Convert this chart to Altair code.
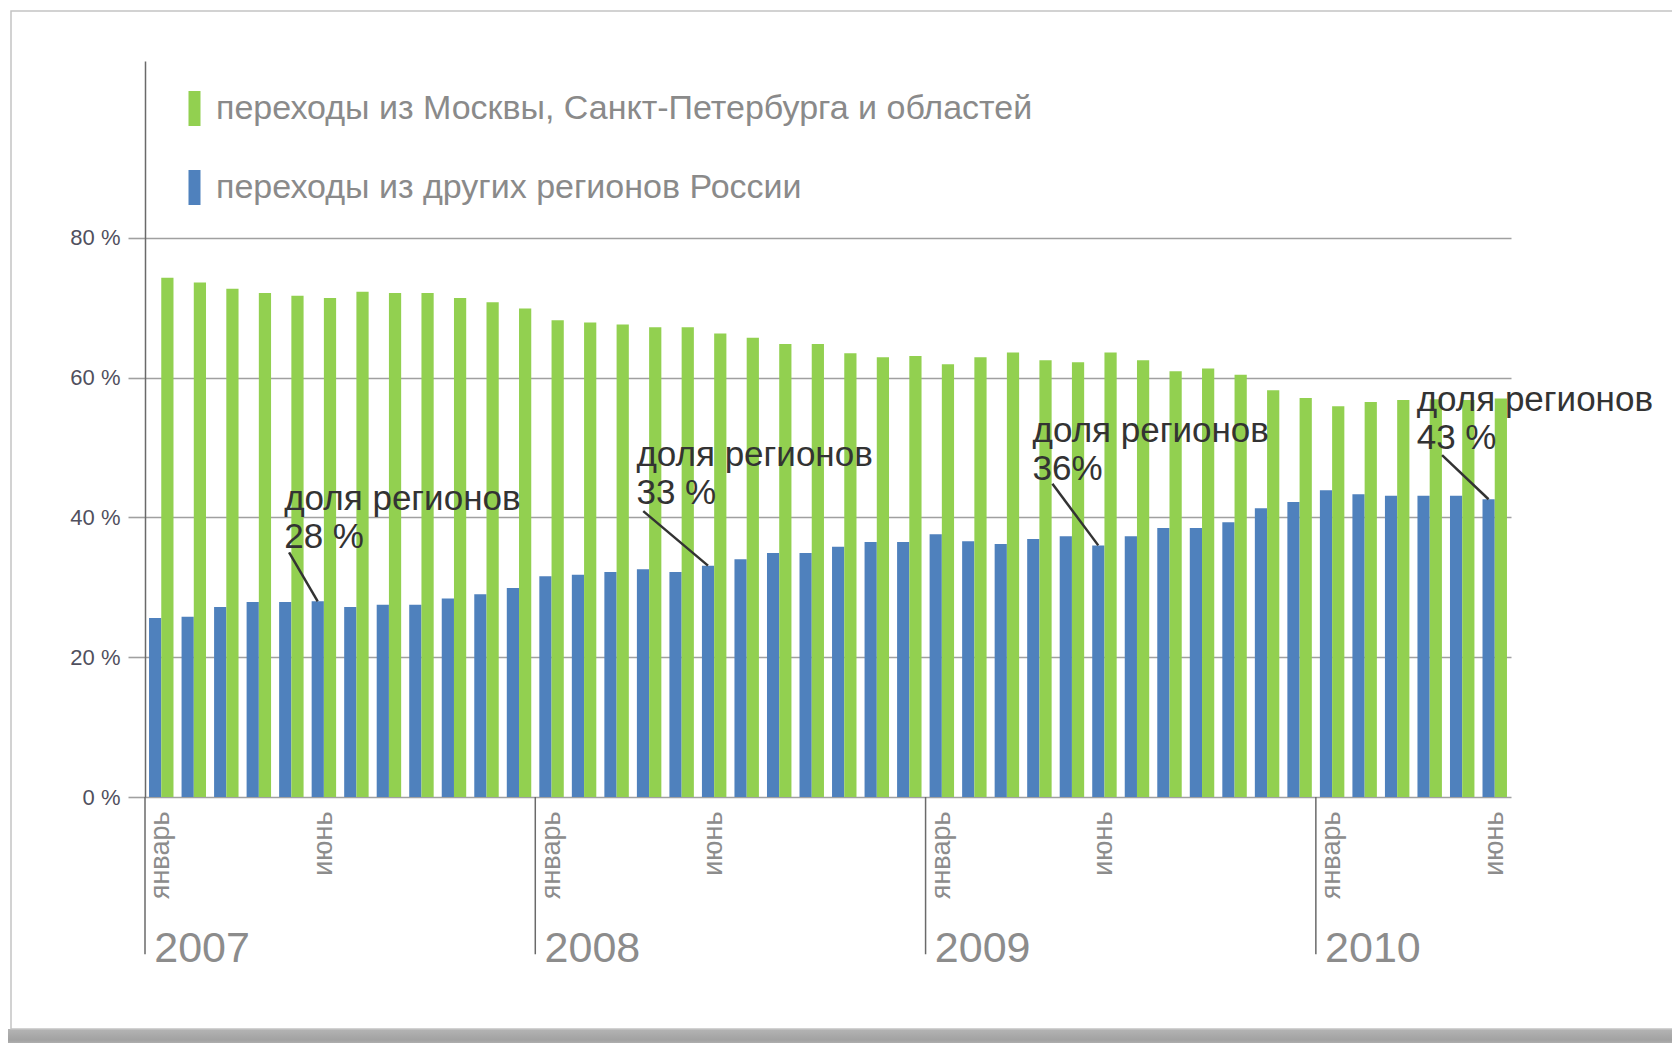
import altair as alt
import pandas as pd

# ---------------- data ----------------
years = [2007, 2008, 2009, 2010]
months_per_year = [12, 12, 12, 6]
month_names = {1: "январь", 6: "июнь"}

green_label = "переходы из Москвы, Санкт-Петербурга и областей"
blue_label = "переходы из других регионов России"

green_share = [74.3, 73.6, 72.7, 72.1, 71.7, 71.4, 72.3, 72.1, 72.1, 71.4, 70.8, 69.9,
               68.2, 67.9, 67.6, 67.2, 67.2, 66.3, 65.7, 64.8, 64.8, 63.5, 62.9, 63.1,
               61.9, 62.9, 63.6, 62.5, 62.2, 63.6, 62.5, 60.9, 61.3, 60.4, 58.2, 57.1,
               55.9, 56.5, 56.8, 56.9, 56.8, 57.0]
blue_share = [25.6, 25.8, 27.2, 27.9, 27.9, 28.0, 27.2, 27.5, 27.5, 28.4, 29.0, 29.9,
              31.6, 31.8, 32.2, 32.6, 32.2, 33.1, 34.0, 34.9, 34.9, 35.8, 36.5, 36.5,
              37.6, 36.6, 36.2, 36.9, 37.3, 36.0, 37.3, 38.5, 38.5, 39.3, 41.3, 42.2,
              43.9, 43.3, 43.1, 43.1, 43.1, 42.6]

y_ticks = [0, 20, 40, 60, 80]

ann_month_index = [5, 17, 29, 41]
ann_title = "доля регионов"
ann_value_text = ["28 %", "33 %", "36%", "43 %"]
ann_text_x = [4.28, 15.11, 27.29, 39.1]     # in month units
ann_text_y = [42.6, 48.9, 52.3, 56.8]       # in percent
ann_line_x = [4.43, 15.32, 27.9, 39.88]
ann_line_y = [35.0, 40.9, 44.8, 48.9]

# ---------------- tables ----------------
keys = []
for yr, n in zip(years, months_per_year):
    for m in range(1, n + 1):
        keys.append(f"{yr}-{m:02d}")

rows = []
for k, g, b in zip(keys, green_share, blue_share):
    rows.append({"key": k, "series": blue_label, "value": b})
    rows.append({"key": k, "series": green_label, "value": g})
df = pd.DataFrame(rows)

label_keys = [k for k in keys if int(k[5:]) in month_names]
label_expr = (f"substring(datum.value, 5, 7) == '01' ? '{month_names[1]}' : '{month_names[6]}'")

year_df = pd.DataFrame({"key": [f"{y}-01" for y in years], "year": [str(y) for y in years]})

blue_center = 0.31  # position of blue bar centre inside a month step
ann_df = pd.DataFrame({
    "tx": ann_text_x,
    "ty": ann_text_y,
    "label": [ann_title + "\n" + v for v in ann_value_text],
    "lx": ann_line_x,
    "ly": ann_line_y,
    "ex": [i + blue_center for i in ann_month_index],
    "ey": [blue_share[i] for i in ann_month_index],
})

N = len(keys)
Y_MAX = 105.3
FONT = "Liberation Sans"
W, H = 1366, 736

band_scale = alt.Scale(domain=keys, paddingInner=0, paddingOuter=0)
y_scale = alt.Scale(domain=[0, Y_MAX], nice=False, zero=False)
lin_scale = alt.Scale(domain=[0, N], nice=False, zero=False)

bars = alt.Chart(df).mark_bar().encode(
    x=alt.X("key:N", sort=keys, scale=band_scale, title=None,
            axis=alt.Axis(values=label_keys, labelExpr=label_expr, labelAngle=270,
                          labelAlign="right", labelBaseline="middle", labelPadding=14,
                          labelFontSize=27, labelColor="#8c8c8c", labelFont=FONT,
                          ticks=False, domain=False, grid=False, labelOverlap=False)),
    xOffset=alt.XOffset("series:N", scale=alt.Scale(domain=[blue_label, green_label],
                                                   paddingInner=0, paddingOuter=0.33)),
    y=alt.Y("value:Q", scale=y_scale, title=None,
            axis=alt.Axis(values=y_ticks, labelExpr="datum.value + ' %'", tickSize=17,
                          tickColor="#a0a0a0", tickWidth=1.6, gridColor="#a0a0a0",
                          gridWidth=1.6, domainColor="#6a6a6a", domainWidth=1.5,
                          labelFontSize=22, labelColor="#50505e", labelPadding=8,
                          labelFont=FONT, title=None)),
    color=alt.Color("series:N",
                    scale=alt.Scale(domain=[green_label, blue_label],
                                    range=["#92d050", "#4f81bd"]),
                    legend=alt.Legend(orient="none", legendX=32, legendY=30,
                                      direction="vertical", title=None,
                                      symbolType="M-0.343,-1L0.343,-1L0.343,1L-0.343,1Z",
                                      symbolSize=1225, symbolStrokeWidth=0,
                                      symbolOpacity=1, labelFontSize=34,
                                      labelColor="#8a8a8a", labelFont=FONT,
                                      labelOffset=4, rowPadding=44, labelLimit=1200,
                                      padding=0)),
)

seps = alt.Chart(year_df).mark_rule(color="#6a6a6a", strokeWidth=1.5).encode(
    x=alt.X("key:N", scale=band_scale, bandPosition=0, axis=None),
    y=alt.YDatum(0, scale=y_scale, title=None),
    y2=alt.Y2Datum(-22.5),
)

year_text = alt.Chart(year_df).mark_text(
    align="left", baseline="middle", dx=-7, fontSize=43, color="#8c8c8c", font=FONT
).encode(
    x=alt.X("key:N", scale=band_scale, axis=None),
    y=alt.YDatum(-21.7, scale=y_scale, title=None),
    text="year:N",
)

ann_lines = alt.Chart(ann_df).mark_rule(color="#333333", strokeWidth=2.5).encode(
    x=alt.X("lx:Q", scale=lin_scale, axis=None),
    x2="ex:Q",
    y=alt.Y("ly:Q", scale=y_scale, title=None),
    y2="ey:Q",
)

ann_text = alt.Chart(ann_df).mark_text(
    align="left", baseline="middle", lineBreak="\n", fontSize=35, lineHeight=38,
    color="#333333", font=FONT
).encode(
    x=alt.X("tx:Q", scale=lin_scale, axis=None),
    y=alt.Y("ty:Q", scale=y_scale, title=None),
    text="label:N",
)

# photo-card frame (decorative)
one = alt.Data(values=[{"a": 1}])
frame = alt.Chart(one).mark_rect(fillOpacity=0, stroke="#c4c4c4", strokeWidth=1.5).encode(
    x=alt.value(-134), x2=alt.value(1600), y=alt.value(-50), y2=alt.value(968)
)
shadow = alt.Chart(one).mark_rect(
    color=alt.LinearGradient(gradient="linear",
                             stops=[alt.GradientStop(color="#b4b4b4", offset=0),
                                    alt.GradientStop(color="#a2a2a2", offset=0.5),
                                    alt.GradientStop(color="#cfcfcf", offset=1)],
                             x1=0, x2=0, y1=0, y2=1)
).encode(x=alt.value(-137), x2=alt.value(1600), y=alt.value(968), y2=alt.value(990))

chart = alt.layer(shadow, frame, bars, seps, year_text, ann_lines, ann_text).resolve_scale(
    x="independent"
).properties(
    width=W, height=H,
    autosize=alt.AutoSizeParams(type="none"),
    padding={"left": 137, "top": 53, "right": 161, "bottom": 246},
    background="#ffffff",
).configure(font=FONT).configure_view(stroke=None)

chart.save("out.html", embed_options={"renderer": "svg", "actions": False})
